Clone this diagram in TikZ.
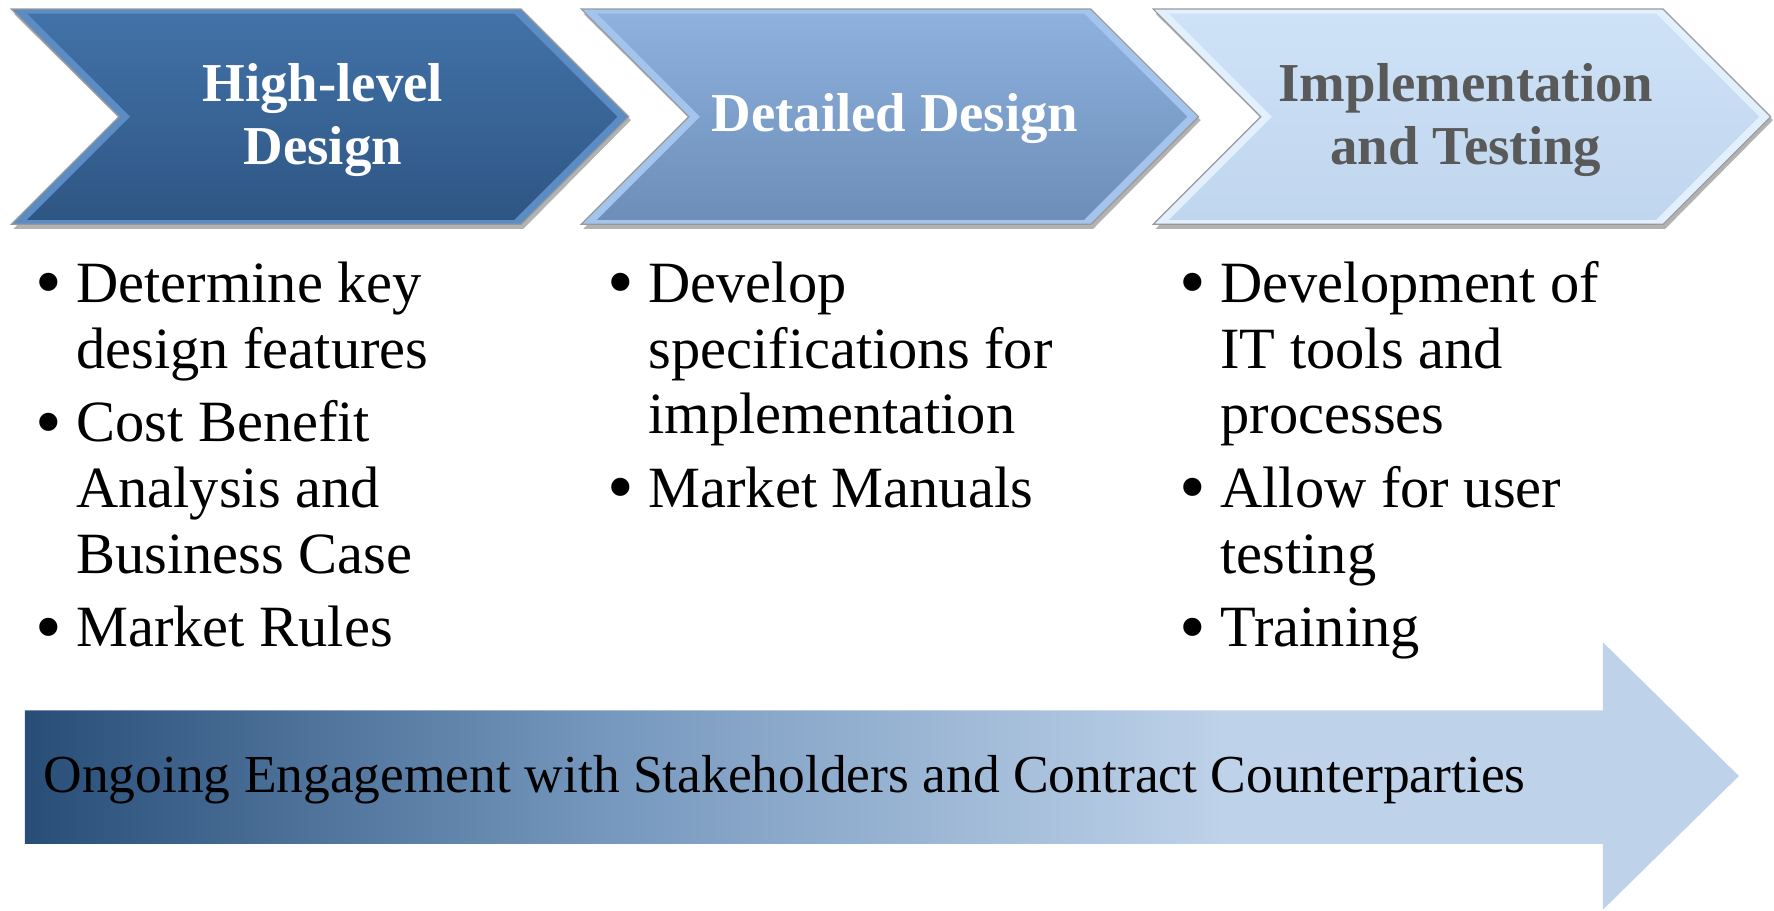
\documentclass[tikz,border=0pt]{standalone}
\usepackage{fontspec}
\usepackage{graphicx}
\setmainfont{Liberation Serif}
\usetikzlibrary{shadings}
\definecolor{cAtop}{RGB}{66,114,168}
\definecolor{cAbot}{RGB}{46,86,132}
\definecolor{cAbev}{RGB}{92,140,196}
\definecolor{cBtop}{RGB}{142,177,222}
\definecolor{cBbot}{RGB}{108,142,184}
\definecolor{cBbev}{RGB}{163,196,236}
\definecolor{cCtop}{RGB}{206,226,247}
\definecolor{cCbot}{RGB}{192,214,238}
\definecolor{cCbev}{RGB}{226,239,253}
\definecolor{titlegray}{RGB}{89,89,89}
\definecolor{engA}{RGB}{40,78,120}
\definecolor{engB}{RGB}{118,152,190}
\definecolor{engC}{RGB}{190,210,233}
\pgfdeclarehorizontalshading{engage}{100bp}{color(0bp)=(engA); color(25bp)=(engA); color(42bp)=(engB); color(60bp)=(engC); color(100bp)=(engC)}
\tikzset{
  titletext/.style={font=\fontsize{24.2}{27.5}\selectfont\bfseries, align=center, inner sep=0pt},
  bullettext/.style={font=\fontsize{25.8}{29}\selectfont, inner sep=0pt, anchor=base west},
  shadowfill/.style={fill=black, opacity=0.3},
}
\newcommand\mychev[4]{%
  % #1 left x, #2 top colour, #3 bottom colour, #4 bevel colour
  \fill[shadowfill] ({#1+2},12) -- ({#1+452},12) -- ({#1+547},106) -- ({#1+452},202) -- ({#1+2},202) -- ({#1+97},106) -- cycle;
  \fill[#4, draw=black!40, line width=0.5pt] (#1,8) -- ({#1+450},8) -- ({#1+545},103) -- ({#1+450},198) -- (#1,198) -- ({#1+95},103) -- cycle;
  \shade[top color=#2, bottom color=#3] ({#1+14},12) -- ({#1+444},12) -- ({#1+535},103) -- ({#1+444},194) -- ({#1+14},194) -- ({#1+105},103) -- cycle;
}
\newcommand\bl{\makebox[18pt][l]{\raisebox{-0.09em}{\scalebox{1.3}{•}}}}
\begin{document}
\begin{tikzpicture}[x=0.5pt,y=-0.5pt]
\useasboundingbox[fill=white] (0,0) rectangle (1566,803.3);
% chevrons
\mychev{10}{cAtop}{cAbot}{cAbev}
\mychev{513}{cBtop}{cBbot}{cBbev}
\mychev{1018}{cCtop}{cCbot}{cCbev}
\node[titletext, text=white] (t1) at (285,106) {High-level\\Design};
\node[titletext, text=white] (t2) at (790,105) {Detailed Design};
\node[titletext, text=titlegray] (t3) at (1294,106) {Implementation\\and Testing};
% bullet columns
\node[bullettext] (b1) at (31,267) {\begin{tabular}[t]{@{}l@{}l@{}}
\bl & Determine key\\ & design features\\[3.5pt]
\bl & Cost Benefit\\ & Analysis and\\ & Business Case\\[3.5pt]
\bl & Market Rules\end{tabular}};
\node[bullettext] (b2) at (536,267) {\begin{tabular}[t]{@{}l@{}l@{}}
\bl & Develop\\ & specifications for\\ & implementation\\[3.5pt]
\bl & Market Manuals\end{tabular}};
\node[bullettext] (b3) at (1041,267) {\begin{tabular}[t]{@{}l@{}l@{}}
\bl & Development of\\ & IT tools and\\ & processes\\[3.5pt]
\bl & Allow for user\\ & testing\\[3.5pt]
\bl & Training\end{tabular}};
% bottom arrow
\shade[shading=engage] (22,627) -- (1415,627) -- (1415,567) -- (1535,685) -- (1415,803) -- (1415,745) -- (22,745) -- cycle;
\node[font=\fontsize{23.6}{26}\selectfont, inner sep=0pt, anchor=base west] (eng) at (38,700) {Ongoing Engagement with Stakeholders and Contract Counterparties};
\end{tikzpicture}
\end{document}
